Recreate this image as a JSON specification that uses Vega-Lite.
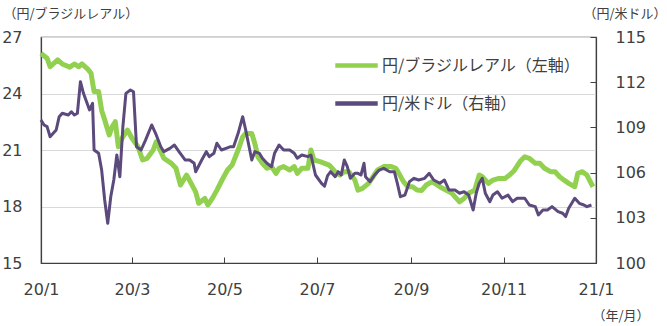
{
  "$schema": "https://vega.github.io/schema/vega-lite/v6.json",
  "width": 555,
  "height": 226,
  "autosize": "none",
  "padding": {"left": 41, "top": 37, "right": 71, "bottom": 63},
  "background": "white",
  "config": {
    "font": "DejaVu Sans, Noto Sans CJK JP",
    "view": {"stroke": "#404040", "strokeWidth": 1.2},
    "axis": {"labelColor": "#404040", "titleColor": "#404040", "labelFontSize": 16, "titleFontSize": 13, "titleFont": "Noto Sans CJK JP", "titleFontWeight": "normal", "domainColor": "#404040", "tickColor": "#404040", "domainWidth": 1.2}
  },
  "datasets": {
    "brl": [
      {"d":"2020-01-01","v":26.13},{"d":"2020-01-05","v":25.87},{"d":"2020-01-07","v":25.42},{"d":"2020-01-12","v":25.78},{"d":"2020-01-15","v":25.57},{"d":"2020-01-20","v":25.4},{"d":"2020-01-23","v":25.57},{"d":"2020-01-26","v":25.42},{"d":"2020-01-28","v":25.57},{"d":"2020-02-01","v":25.28},{"d":"2020-02-03","v":25.07},{"d":"2020-02-05","v":24.1},{"d":"2020-02-08","v":24.1},{"d":"2020-02-10","v":23.1},{"d":"2020-02-12","v":22.6},{"d":"2020-02-15","v":21.8},{"d":"2020-02-17","v":22.24},{"d":"2020-02-19","v":22.5},{"d":"2020-02-21","v":21.17},{"d":"2020-02-24","v":21.7},{"d":"2020-02-27","v":22.06},{"d":"2020-03-01","v":21.62},{"d":"2020-03-05","v":21.17},{"d":"2020-03-08","v":20.47},{"d":"2020-03-11","v":20.56},{"d":"2020-03-15","v":21.0},{"d":"2020-03-17","v":21.44},{"d":"2020-03-19","v":21.09},{"d":"2020-03-22","v":20.56},{"d":"2020-03-27","v":20.29},{"d":"2020-03-30","v":20.03},{"d":"2020-04-02","v":19.14},{"d":"2020-04-06","v":19.67},{"d":"2020-04-09","v":19.23},{"d":"2020-04-12","v":18.78},{"d":"2020-04-14","v":18.17},{"d":"2020-04-18","v":18.43},{"d":"2020-04-20","v":18.08},{"d":"2020-04-23","v":18.43},{"d":"2020-04-26","v":18.87},{"d":"2020-04-30","v":19.5},{"d":"2020-05-03","v":19.94},{"d":"2020-05-06","v":20.2},{"d":"2020-05-10","v":21.0},{"d":"2020-05-13","v":21.7},{"d":"2020-05-15","v":21.88},{"d":"2020-05-19","v":21.88},{"d":"2020-05-21","v":21.35},{"d":"2020-05-23","v":20.64},{"d":"2020-05-26","v":20.29},{"d":"2020-05-29","v":20.03},{"d":"2020-06-01","v":20.12},{"d":"2020-06-04","v":19.76},{"d":"2020-06-06","v":20.03},{"d":"2020-06-09","v":20.12},{"d":"2020-06-13","v":19.94},{"d":"2020-06-16","v":20.12},{"d":"2020-06-18","v":19.76},{"d":"2020-06-21","v":20.03},{"d":"2020-06-25","v":20.03},{"d":"2020-06-27","v":21.0},{"d":"2020-06-29","v":20.47},{"d":"2020-07-03","v":20.38},{"d":"2020-07-06","v":20.29},{"d":"2020-07-09","v":20.2},{"d":"2020-07-13","v":19.85},{"d":"2020-07-16","v":19.67},{"d":"2020-07-19","v":19.85},{"d":"2020-07-22","v":19.85},{"d":"2020-07-26","v":19.4},{"d":"2020-07-28","v":18.87},{"d":"2020-07-31","v":18.96},{"d":"2020-08-04","v":19.23},{"d":"2020-08-07","v":19.58},{"d":"2020-08-10","v":19.94},{"d":"2020-08-14","v":20.12},{"d":"2020-08-19","v":20.12},{"d":"2020-08-22","v":20.03},{"d":"2020-08-24","v":19.76},{"d":"2020-08-27","v":19.32},{"d":"2020-08-30","v":19.05},{"d":"2020-09-02","v":19.05},{"d":"2020-09-05","v":18.87},{"d":"2020-09-08","v":18.85},{"d":"2020-09-11","v":19.14},{"d":"2020-09-15","v":19.32},{"d":"2020-09-20","v":19.05},{"d":"2020-09-24","v":18.87},{"d":"2020-09-28","v":18.7},{"d":"2020-10-03","v":18.25},{"d":"2020-10-06","v":18.43},{"d":"2020-10-09","v":18.7},{"d":"2020-10-13","v":18.87},{"d":"2020-10-16","v":19.67},{"d":"2020-10-18","v":19.58},{"d":"2020-10-22","v":19.23},{"d":"2020-10-25","v":19.4},{"d":"2020-10-29","v":19.49},{"d":"2020-11-02","v":19.49},{"d":"2020-11-05","v":19.67},{"d":"2020-11-08","v":19.9},{"d":"2020-11-12","v":20.4},{"d":"2020-11-15","v":20.64},{"d":"2020-11-18","v":20.56},{"d":"2020-11-22","v":20.29},{"d":"2020-11-25","v":20.29},{"d":"2020-11-28","v":20.03},{"d":"2020-12-02","v":19.85},{"d":"2020-12-05","v":19.85},{"d":"2020-12-08","v":19.58},{"d":"2020-12-11","v":19.4},{"d":"2020-12-14","v":19.23},{"d":"2020-12-18","v":19.05},{"d":"2020-12-20","v":19.76},{"d":"2020-12-23","v":19.85},{"d":"2020-12-26","v":19.67},{"d":"2020-12-30","v":19.05}
    ],
    "usd": [
      {"d":"2020-01-01","v":109.49},{"d":"2020-01-03","v":109.16},{"d":"2020-01-05","v":109.05},{"d":"2020-01-07","v":108.38},{"d":"2020-01-11","v":108.83},{"d":"2020-01-13","v":109.71},{"d":"2020-01-15","v":109.94},{"d":"2020-01-19","v":109.82},{"d":"2020-01-21","v":110.04},{"d":"2020-01-23","v":109.82},{"d":"2020-01-25","v":109.94},{"d":"2020-01-27","v":112.03},{"d":"2020-01-29","v":111.26},{"d":"2020-02-02","v":110.16},{"d":"2020-02-04","v":110.6},{"d":"2020-02-05","v":107.5},{"d":"2020-02-08","v":107.28},{"d":"2020-02-10","v":106.17},{"d":"2020-02-12","v":104.18},{"d":"2020-02-14","v":102.64},{"d":"2020-02-16","v":104.4},{"d":"2020-02-18","v":105.51},{"d":"2020-02-20","v":107.17},{"d":"2020-02-22","v":105.73},{"d":"2020-02-24","v":109.05},{"d":"2020-02-26","v":111.26},{"d":"2020-02-29","v":111.48},{"d":"2020-03-02","v":111.37},{"d":"2020-03-04","v":107.72},{"d":"2020-03-07","v":107.5},{"d":"2020-03-10","v":108.17},{"d":"2020-03-14","v":109.16},{"d":"2020-03-17","v":108.5},{"d":"2020-03-20","v":107.72},{"d":"2020-03-22","v":107.39},{"d":"2020-03-26","v":107.61},{"d":"2020-03-29","v":107.83},{"d":"2020-04-01","v":107.39},{"d":"2020-04-05","v":106.84},{"d":"2020-04-08","v":106.84},{"d":"2020-04-11","v":106.62},{"d":"2020-04-12","v":106.06},{"d":"2020-04-16","v":106.84},{"d":"2020-04-19","v":107.39},{"d":"2020-04-21","v":107.06},{"d":"2020-04-24","v":107.28},{"d":"2020-04-26","v":107.95},{"d":"2020-04-29","v":107.5},{"d":"2020-05-02","v":107.61},{"d":"2020-05-05","v":107.72},{"d":"2020-05-07","v":107.72},{"d":"2020-05-10","v":108.61},{"d":"2020-05-13","v":109.71},{"d":"2020-05-15","v":108.83},{"d":"2020-05-19","v":106.84},{"d":"2020-05-21","v":107.39},{"d":"2020-05-24","v":107.28},{"d":"2020-05-26","v":106.95},{"d":"2020-05-29","v":106.62},{"d":"2020-06-01","v":106.39},{"d":"2020-06-03","v":107.28},{"d":"2020-06-06","v":107.83},{"d":"2020-06-09","v":107.5},{"d":"2020-06-13","v":107.5},{"d":"2020-06-16","v":107.28},{"d":"2020-06-18","v":106.95},{"d":"2020-06-21","v":107.17},{"d":"2020-06-25","v":107.06},{"d":"2020-06-27","v":107.17},{"d":"2020-06-30","v":105.84},{"d":"2020-07-04","v":105.29},{"d":"2020-07-06","v":105.1},{"d":"2020-07-08","v":105.8},{"d":"2020-07-10","v":106.06},{"d":"2020-07-13","v":105.73},{"d":"2020-07-15","v":106.06},{"d":"2020-07-17","v":105.84},{"d":"2020-07-19","v":106.84},{"d":"2020-07-21","v":106.39},{"d":"2020-07-23","v":105.62},{"d":"2020-07-26","v":105.95},{"d":"2020-07-28","v":105.95},{"d":"2020-07-30","v":105.84},{"d":"2020-08-01","v":106.62},{"d":"2020-08-02","v":105.73},{"d":"2020-08-05","v":105.4},{"d":"2020-08-08","v":105.84},{"d":"2020-08-11","v":106.17},{"d":"2020-08-14","v":106.28},{"d":"2020-08-18","v":106.06},{"d":"2020-08-21","v":106.06},{"d":"2020-08-23","v":105.29},{"d":"2020-08-25","v":104.4},{"d":"2020-08-28","v":104.51},{"d":"2020-08-31","v":105.4},{"d":"2020-09-03","v":105.62},{"d":"2020-09-06","v":105.51},{"d":"2020-09-10","v":105.62},{"d":"2020-09-13","v":105.95},{"d":"2020-09-16","v":105.51},{"d":"2020-09-20","v":105.29},{"d":"2020-09-23","v":105.51},{"d":"2020-09-26","v":104.85},{"d":"2020-09-30","v":104.85},{"d":"2020-10-03","v":104.63},{"d":"2020-10-06","v":104.73},{"d":"2020-10-09","v":104.51},{"d":"2020-10-12","v":103.52},{"d":"2020-10-14","v":104.63},{"d":"2020-10-16","v":105.29},{"d":"2020-10-18","v":105.62},{"d":"2020-10-20","v":104.63},{"d":"2020-10-23","v":104.07},{"d":"2020-10-25","v":104.51},{"d":"2020-10-28","v":104.73},{"d":"2020-10-31","v":104.3},{"d":"2020-11-04","v":104.51},{"d":"2020-11-07","v":104.07},{"d":"2020-11-10","v":104.3},{"d":"2020-11-15","v":104.3},{"d":"2020-11-18","v":103.85},{"d":"2020-11-22","v":103.74},{"d":"2020-11-24","v":103.19},{"d":"2020-11-27","v":103.52},{"d":"2020-11-30","v":103.52},{"d":"2020-12-03","v":103.74},{"d":"2020-12-07","v":103.41},{"d":"2020-12-10","v":103.3},{"d":"2020-12-12","v":103.08},{"d":"2020-12-14","v":103.63},{"d":"2020-12-18","v":104.3},{"d":"2020-12-21","v":103.96},{"d":"2020-12-24","v":103.85},{"d":"2020-12-26","v":103.74},{"d":"2020-12-29","v":103.85}
    ]
  },
  "encoding": {
    "x": {
      "field": "d", "type": "temporal",
      "scale": {"type": "utc", "domain": [{"year": 2020, "month": 1, "date": 1, "utc": true}, {"year": 2021, "month": 1, "date": 1, "utc": true}]},
      "axis": {
        "values": [{"year": 2020, "month": 1, "date": 1, "utc": true}, {"year": 2020, "month": 3, "date": 1, "utc": true}, {"year": 2020, "month": 5, "date": 1, "utc": true}, {"year": 2020, "month": 7, "date": 1, "utc": true}, {"year": 2020, "month": 9, "date": 1, "utc": true}, {"year": 2020, "month": 11, "date": 1, "utc": true}, {"year": 2021, "month": 1, "date": 1, "utc": true}],
        "labelExpr": "utcFormat(datum.value, '%y/%-m')",
        "grid": false, "tickSize": -6, "labelPadding": 24, "labelFlush": false, "labelOverlap": false,
        "title": "（年/月）", "titleAnchor": "start", "titleAlign": "left", "titleBaseline": "middle", "titleX": 551, "titleY": 52
      }
    }
  },
  "layer": [
    {
      "data": {"name": "brl"},
      "mark": {"type": "line", "strokeWidth": 5, "strokeJoin": "round"},
      "encoding": {
        "y": {
          "field": "v", "type": "quantitative",
          "scale": {"domain": [15, 27], "nice": false, "zero": false},
          "axis": {"values": [15, 18, 21, 24, 27], "grid": true, "gridColor": "#d9d9d9", "ticks": false, "labelPadding": 19,
            "title": "（円/ブラジルレアル）", "titleAngle": 0, "titleAlign": "left", "titleBaseline": "middle", "titleX": -38, "titleY": -24}
        },
        "color": {
          "datum": "円/ブラジルレアル（左軸）", "type": "nominal",
          "scale": {"domain": ["円/ブラジルレアル（左軸）", "円/米ドル（右軸）"], "range": ["#92d050", "#5b4a7b"]},
          "legend": {"orient": "none", "legendX": 292, "legendY": 5, "title": null, "symbolType": "stroke", "symbolSize": 1800, "symbolStrokeWidth": 4.5, "labelFontSize": 16, "labelFont": "Noto Sans CJK JP", "labelColor": "#404040", "labelOffset": 2, "labelLimit": 400, "rowPadding": 5}
        }
      }
    },
    {
      "data": {"name": "usd"},
      "mark": {"type": "line", "strokeWidth": 3, "strokeJoin": "round"},
      "encoding": {
        "y": {
          "field": "v", "type": "quantitative",
          "scale": {"domain": [100, 115], "nice": false, "zero": false},
          "axis": {"orient": "right", "values": [100, 103, 106, 109, 112, 115], "grid": false, "tickSize": -6, "labelPadding": 25,
            "title": "（円/米ドル）", "titleAngle": 0, "titleAlign": "left", "titleBaseline": "middle", "titleX": -13, "titleY": -24}
        },
        "color": {"datum": "円/米ドル（右軸）", "type": "nominal"}
      }
    }
  ],
  "resolve": {"scale": {"y": "independent"}}
}
